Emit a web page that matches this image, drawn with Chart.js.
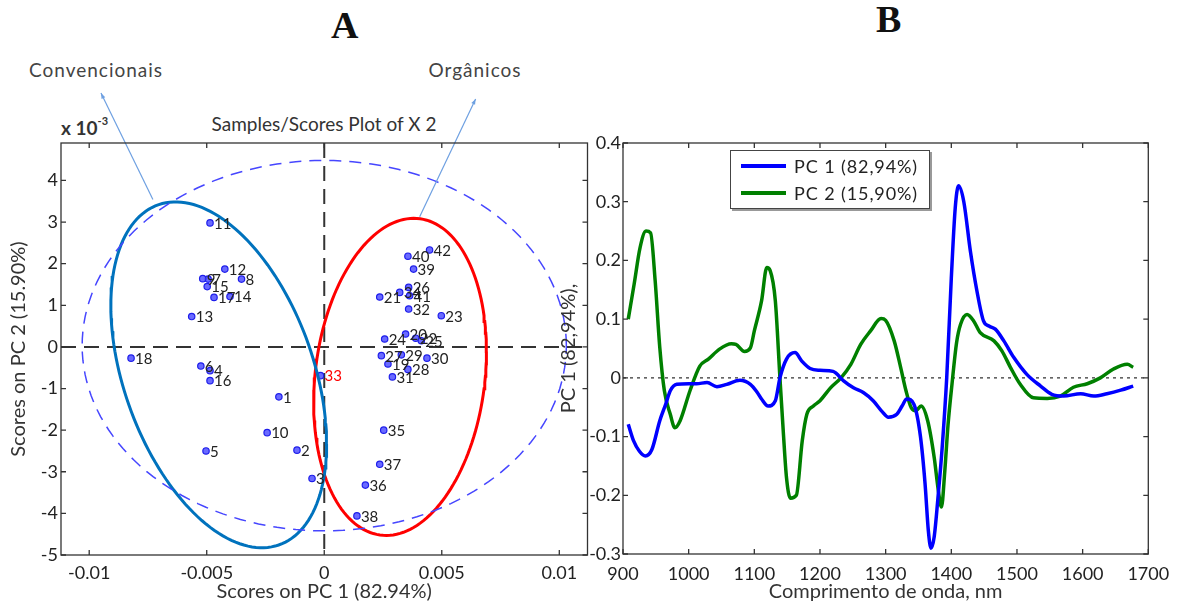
<!DOCTYPE html>
<html>
<head>
<meta charset="utf-8">
<title>PCA - scores e loadings</title>
<script src="https://cdn.jsdelivr.net/npm/chart.js@4.4.0/dist/chart.umd.min.js"></script>
<style>
  body { margin: 0; width: 1182px; height: 605px; position: relative; overflow: hidden; background: #fff;
         font-family: Lato, "Liberation Sans", sans-serif; color: #333; }
  canvas { position: absolute; top: 0; }
  #scores { left: 0; }
  #loadings { left: 555px; }
  .txt { position: absolute; white-space: nowrap; }
  .panel { font-family: "Liberation Serif", serif; font-weight: bold; font-size: 38px; color: #111; }
  .group { font-size: 19px; letter-spacing: 1px; color: #444; transform: translateX(-50%); }
  #plotTitle { font-size: 19px; color: #333; left: 324px; top: 112px; transform: translateX(-50%); }
  #mult { left: 61px; top: 116px; font-size: 19px; font-weight: bold; color: #333; }
  #mult sup { font-size: 11px; position: relative; top: -3px; }
  #legend { position: absolute; left: 730px; top: 150px; width: 198px; height: 57px; border: 1.5px solid #444;
            box-shadow: 2px 2px 0 #999; background: #fff; font-size: 18px; letter-spacing: 0.9px; color: #222; }
  #legend .row { position: absolute; left: 0; height: 24px; display: flex; align-items: center; }
  #legend .swatch { display: inline-block; width: 45px; height: 4px; margin: 0 8px 0 10px; }
</style>
</head>
<body>
<div class="txt panel" style="left:331px; top:3px;">A</div>
<div class="txt panel" style="left:876px; top:-3px;">B</div>
<div class="txt group" style="left:96px; top:58px;">Convencionais</div>
<div class="txt group" style="left:475px; top:58px;">Orgânicos</div>
<div class="txt" id="plotTitle">Samples/Scores Plot of X 2</div>
<div class="txt" id="mult">x 10<sup>-3</sup></div>
<canvas id="scores" width="600" height="605"></canvas>
<canvas id="loadings" width="627" height="605"></canvas>
<div id="legend"></div>
<script>
// ---- scores (PC1 real, PC2 em unidades de 10^-3) ----
const sampleIds = [1, 2, 3, 4, 5, 6, 7, 8, 9, 10, 11, 12, 13, 14, 15, 16, 17, 18,
  19, 20, 21, 22, 23, 24, 25, 26, 27, 28, 29, 30, 31, 32, 33, 34, 35, 36, 37, 38, 39, 40, 41, 42];
const scorePc1 = [-0.00193, -0.00116, -0.00052, -0.00486, -0.00503, -0.00525, -0.00494, -0.00352, -0.00517,
  -0.00243, -0.00486, -0.00423, -0.00564, -0.00401, -0.00498, -0.00486, -0.00469, -0.00822,
  0.00271, 0.00346, 0.00236, 0.00389, 0.00498, 0.00257, 0.00413, 0.00359, 0.00243, 0.00356, 0.00328,
  0.00437, 0.00290, 0.00359, -0.00016, 0.00321, 0.00253, 0.00175, 0.00236, 0.00139, 0.00380, 0.00356,
  0.00363, 0.00448];
const scorePc2 = [-1.20, -2.48, -3.16, -0.57, -2.50, -0.46, 1.63, 1.63, 1.64, -2.06, 2.98, 1.87, 0.73, 1.21,
  1.45, -0.81, 1.19, -0.27,
  -0.41, 0.31, 1.20, 0.21, 0.75, 0.19, 0.15, 1.43, -0.21, -0.54, -0.19, -0.27, -0.72, 0.91, -0.69, 1.31,
  -2.00, -3.32, -2.82, -4.06, 1.87, 2.18, 1.23, 2.33];
const highlightedSample = 33;

// elipses: x = cx + rx cos t, y = cy + ry cos(t - phase)
const ellipseT2 = { cx: 0, cy: 0.03, rx: 0.0103, ry: 4.45, phase: Math.PI / 2 };
const ellipseConv = { cx: -0.00449, cy: -0.67, rx: 0.00459, ry: 4.155, phase: Math.acos(-0.40) };
const ellipseOrg = { cx: 0.003225, cy: -0.72, rx: 0.003675, ry: 3.81, phase: Math.acos(0.16) };

const scoreXTicks = [-0.01, -0.005, 0, 0.005, 0.01];
const scoreXLabels = ['-0.01', '-0.005', '0', '0.005', '0.01'];
const scoreYTicks = [-5, -4, -3, -2, -1, 0, 1, 2, 3, 4];

// ---- loadings ----
const pc1Nm = [908, 916, 925, 934, 944, 956, 965, 972, 982, 1000, 1012, 1028, 1043, 1058, 1078, 1094, 1104,
  1111, 1121, 1132, 1139, 1149, 1162, 1172, 1185, 1200, 1220, 1236, 1251, 1266, 1281, 1295, 1304, 1317,
  1325, 1332, 1343, 1353, 1360, 1365, 1369, 1374, 1380, 1386, 1393, 1400, 1406, 1411, 1419, 1429, 1439,
  1449, 1458, 1467, 1480, 1495, 1515, 1536, 1553, 1571, 1597, 1617, 1637, 1658, 1677];
const pc1Loading = [-0.079, -0.107, -0.125, -0.133, -0.122, -0.073, -0.045, -0.022, -0.011, -0.010, -0.010,
  -0.008, -0.015, -0.011, -0.004, -0.011, -0.024, -0.036, -0.048, -0.039, 0.0, 0.032, 0.043, 0.029, 0.016,
  0.013, 0.011, -0.005, -0.017, -0.025, -0.039, -0.058, -0.067, -0.062, -0.048, -0.036, -0.045, -0.10,
  -0.18, -0.26, -0.29, -0.27, -0.20, -0.12, 0.0, 0.17, 0.29, 0.327, 0.30, 0.216, 0.148, 0.097, 0.088,
  0.083, 0.063, 0.035, 0.006, -0.014, -0.028, -0.031, -0.027, -0.031, -0.027, -0.021, -0.014];
const pc2Nm = [908, 917, 926, 935, 942, 949, 956, 963, 972, 979, 987, 1002, 1017, 1030, 1047, 1065, 1072,
  1085, 1094, 1100, 1111, 1119, 1124, 1132, 1139, 1144, 1149, 1155, 1164, 1173, 1180, 1190, 1200, 1216,
  1232, 1247, 1262, 1277, 1293, 1300, 1313, 1323, 1331, 1339, 1346, 1354, 1364, 1374, 1380, 1385, 1390,
  1395, 1401, 1408, 1414, 1424, 1434, 1444, 1465, 1477, 1490, 1505, 1525, 1546, 1566, 1586, 1607, 1627,
  1647, 1668, 1677];
const pc2Loading = [0.100, 0.160, 0.222, 0.250, 0.247, 0.165, 0.052, -0.022, -0.062, -0.085, -0.073, -0.022,
  0.020, 0.032, 0.049, 0.058, 0.057, 0.045, 0.051, 0.080, 0.131, 0.188, 0.183, 0.131, 0.0, -0.09, -0.17,
  -0.205, -0.200, -0.107, -0.062, -0.048, -0.039, -0.017, 0.0, 0.023, 0.057, 0.080, 0.101, 0.098, 0.063,
  0.017, -0.022, -0.051, -0.056, -0.048, -0.073, -0.136, -0.19, -0.22, -0.16, -0.08, -0.011, 0.06, 0.091,
  0.108, 0.097, 0.077, 0.063, 0.046, 0.018, -0.011, -0.034, -0.035, -0.031, -0.016, -0.010, 0.0, 0.015,
  0.023, 0.018];

const loadXTicks = [900, 1000, 1100, 1200, 1300, 1400, 1500, 1600, 1700];
const loadYTicks = [-0.3, -0.2, -0.1, 0, 0.1, 0.2, 0.3, 0.4];
const loadYLabels = ['-0.3', '-0.2', '-0.1', '0', '0.1', '0.2', '0.3', '0.4'];

const tickFont = { family: 'Lato', size: 18 };
const titleFont = { family: 'Lato', size: 20 };
const noGrid = { display: false, drawTicks: false };

function outline(e, steps = 160) {
  const pts = [];
  for (let i = 0; i <= steps; i++) {
    const t = (i / steps) * 2 * Math.PI;
    pts.push({ x: e.cx + e.rx * Math.cos(t), y: e.cy + e.ry * Math.cos(t - e.phase) });
  }
  return pts;
}

function fixedTicks(values) {
  return axis => { axis.ticks = values.map(v => ({ value: v })); };
}

// caixa fechada com marcas de escala para dentro nos quatro lados
const boxTicks = {
  id: 'boxTicks',
  afterDraw(chart, args, opts) {
    const { ctx, chartArea: a, scales: { x, y } } = chart;
    const len = opts.len || 5;
    ctx.save();
    ctx.strokeStyle = '#333';
    ctx.lineWidth = 1.3;
    ctx.strokeRect(a.left, a.top, a.right - a.left, a.bottom - a.top);
    ctx.beginPath();
    x.ticks.forEach(t => {
      const px = x.getPixelForValue(t.value);
      ctx.moveTo(px, a.bottom); ctx.lineTo(px, a.bottom - len);
      ctx.moveTo(px, a.top); ctx.lineTo(px, a.top + len);
    });
    y.ticks.forEach(t => {
      const py = y.getPixelForValue(t.value);
      ctx.moveTo(a.left, py); ctx.lineTo(a.left + len, py);
      ctx.moveTo(a.right, py); ctx.lineTo(a.right - len, py);
    });
    ctx.stroke();
    ctx.restore();
  }
};

// linhas tracejadas em x = 0 e/ou y = 0
const zeroLines = {
  id: 'zeroLines',
  beforeDatasetsDraw(chart, args, opts) {
    const { ctx, chartArea: a, scales: { x, y } } = chart;
    ctx.save();
    ctx.strokeStyle = opts.color;
    ctx.lineWidth = opts.width;
    ctx.setLineDash(opts.dash);
    ctx.beginPath();
    const py = y.getPixelForValue(0);
    ctx.moveTo(a.left, py); ctx.lineTo(a.right, py);
    if (opts.vertical) {
      const px = x.getPixelForValue(0);
      ctx.moveTo(px, a.top); ctx.lineTo(px, a.bottom);
    }
    ctx.stroke();
    ctx.restore();
  }
};

// números das amostras ao lado de cada ponto
const sampleLabels = {
  id: 'sampleLabels',
  afterDatasetsDraw(chart) {
    const { ctx } = chart;
    const idx = chart.data.datasets.findIndex(d => d.id === 'scores');
    const meta = chart.getDatasetMeta(idx);
    ctx.save();
    ctx.font = '15px Lato';
    ctx.textBaseline = 'middle';
    meta.data.forEach((el, i) => {
      ctx.fillStyle = sampleIds[i] === highlightedSample ? '#f00' : '#222';
      ctx.fillText(String(sampleIds[i]), el.x + 4, el.y + 1);
    });
    ctx.restore();
  }
};

// setas das elipses até os nomes dos grupos
const groupArrows = {
  id: 'groupArrows',
  afterDraw(chart, args, opts) {
    const { ctx, scales: { x, y } } = chart;
    ctx.save();
    ctx.strokeStyle = opts.color;
    ctx.fillStyle = opts.color;
    ctx.lineWidth = 1.2;
    opts.arrows.forEach(([from, to]) => {
      const x0 = x.getPixelForValue(from[0]), y0 = y.getPixelForValue(from[1]);
      const x1 = x.getPixelForValue(to[0]), y1 = y.getPixelForValue(to[1]);
      ctx.beginPath(); ctx.moveTo(x0, y0); ctx.lineTo(x1, y1); ctx.stroke();
      const ang = Math.atan2(y1 - y0, x1 - x0);
      ctx.beginPath();
      ctx.moveTo(x1, y1);
      ctx.lineTo(x1 - 6 * Math.cos(ang - 0.35), y1 - 6 * Math.sin(ang - 0.35));
      ctx.lineTo(x1 - 6 * Math.cos(ang + 0.35), y1 - 6 * Math.sin(ang + 0.35));
      ctx.closePath(); ctx.fill();
    });
    ctx.restore();
  }
};

Chart.defaults.font.family = 'Lato';
Chart.defaults.color = '#333';

new Chart(document.getElementById('scores'), {
  type: 'scatter',
  data: {
    datasets: [
      { data: outline(ellipseT2), showLine: true, borderColor: 'rgb(70,70,255)', borderWidth: 1.5,
        borderDash: [12, 8], pointRadius: 0 },
      { data: outline(ellipseConv), showLine: true, borderColor: 'rgb(0,114,189)', borderWidth: 3, pointRadius: 0 },
      { data: outline(ellipseOrg), showLine: true, borderColor: 'rgb(255,0,0)', borderWidth: 3, pointRadius: 0 },
      { id: 'scores', data: scorePc1.map((v, i) => ({ x: v, y: scorePc2[i] })),
        pointRadius: 3.2, pointBackgroundColor: 'rgba(90,90,255,0.9)', pointBorderColor: 'rgb(30,30,235)',
        pointBorderWidth: 1.2 }
    ]
  },
  options: {
    responsive: false,
    animation: false,
    layout: { padding: { top: 143, right: 12.5, left: 0, bottom: 0 } },
    plugins: {
      legend: { display: false },
      tooltip: { enabled: false },
      zeroLines: { color: '#333', width: 2, dash: [15, 8], vertical: true },
      groupArrows: { color: 'rgb(110,160,225)', arrows: [
        [[-0.00729, 3.54], [-0.0095, 6.1]],
        [[0.00406, 3.13], [0.00644, 5.96]]
      ] }
    },
    scales: {
      x: {
        type: 'linear', min: -0.0112, max: 0.0112,
        afterBuildTicks: fixedTicks(scoreXTicks),
        afterFit: s => { s.height = 50; },
        grid: noGrid, border: { display: false },
        ticks: { font: tickFont, color: '#222', padding: 7, maxRotation: 0,
                 callback: (v, i) => scoreXLabels[i] },
        title: { display: true, text: 'Scores on PC 1 (82.94%)', font: titleFont, color: '#333',
                 padding: { top: 0, bottom: 1 } }
      },
      y: {
        min: -5, max: 4.9,
        afterBuildTicks: fixedTicks(scoreYTicks),
        afterFit: s => { s.width = 61; },
        grid: noGrid, border: { display: false },
        ticks: { font: tickFont, color: '#222', padding: 3 },
        title: { display: true, text: 'Scores on PC 2 (15.90%)', font: titleFont, color: '#333',
                 padding: { top: 7, bottom: 0 } }
      }
    }
  },
  plugins: [zeroLines, sampleLabels, groupArrows, boxTicks]
});

const loadChart = new Chart(document.getElementById('loadings'), {
  type: 'line',
  data: {
    datasets: [
      { label: 'PC 1 (82,94%)', data: pc1Nm.map((v, i) => ({ x: v, y: pc1Loading[i] })),
        borderColor: 'rgb(0,0,255)', borderWidth: 3.5, pointRadius: 0, cubicInterpolationMode: 'monotone' },
      { label: 'PC 2 (15,90%)', data: pc2Nm.map((v, i) => ({ x: v, y: pc2Loading[i] })),
        borderColor: 'rgb(0,128,0)', borderWidth: 3.5, pointRadius: 0, cubicInterpolationMode: 'monotone' }
    ]
  },
  options: {
    responsive: false,
    animation: false,
    layout: { padding: { top: 143, right: 33.7, left: 0, bottom: 0 } },
    plugins: {
      legend: { display: false },
      tooltip: { enabled: false },
      zeroLines: { color: '#333', width: 1.3, dash: [3, 4], vertical: false }
    },
    scales: {
      x: {
        type: 'linear', min: 900, max: 1700,
        afterBuildTicks: fixedTicks(loadXTicks),
        afterFit: s => { s.height = 51; },
        grid: noGrid, border: { display: false },
        ticks: { font: tickFont, color: '#222', padding: 9, maxRotation: 0, callback: v => String(v) },
        title: { display: true, text: 'Comprimento de onda, nm', font: titleFont, color: '#333',
                 padding: { top: 0, bottom: 1 } }
      },
      y: {
        min: -0.3, max: 0.4,
        afterBuildTicks: fixedTicks(loadYTicks),
        afterFit: s => { s.width = 68; },
        grid: noGrid, border: { display: false },
        ticks: { font: tickFont, color: '#222', padding: 2,
                 callback: (v, i) => loadYLabels[i] },
        title: { display: true, text: 'PC 1 (82,94%),', font: titleFont, color: '#333',
                 padding: { top: 2, bottom: 0 } }
      }
    }
  },
  plugins: [zeroLines, boxTicks]
});

// legenda em caixa dentro da área do gráfico
const legendBox = document.getElementById('legend');
loadChart.data.datasets.forEach((ds, i) => {
  const row = document.createElement('div');
  row.className = 'row';
  row.style.top = (3 + i * 27) + 'px';
  const sw = document.createElement('span');
  sw.className = 'swatch';
  sw.style.background = ds.borderColor;
  const label = document.createElement('span');
  label.textContent = ds.label;
  row.appendChild(sw);
  row.appendChild(label);
  legendBox.appendChild(row);
});
</script>
</body>
</html>
